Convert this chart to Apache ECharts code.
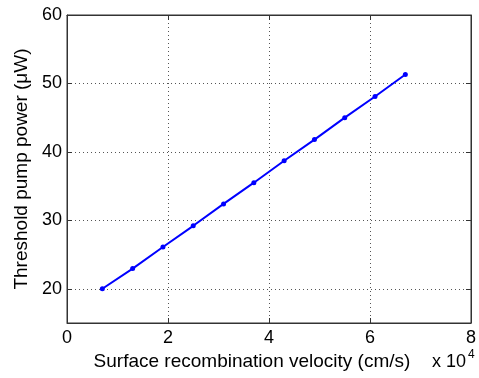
<!DOCTYPE html>
<html><head><meta charset="utf-8">
<script src="https://cdn.jsdelivr.net/npm/echarts@6/dist/echarts.min.js"></script>
<style>html,body{margin:0;padding:0;background:#fff}#c{width:479px;height:378px}</style>
</head><body><div id="c"></div>
<script>
const velocity = [0.7, 1.3, 1.9, 2.5, 3.1, 3.7, 4.3, 4.9, 5.5, 6.1, 6.7];
const power = [20.0, 22.95, 26.1, 29.2, 32.4, 35.5, 38.7, 41.8, 45.0, 48.1, 51.3];
const xTitle = 'Surface recombination velocity (cm/s)';
const yTitle = 'Threshold pump power (\u03bcW)';
const xScaleText = 'x 10';
const xScaleExp = '4';

const chart = echarts.init(document.getElementById('c'));
const font = 'Liberation Sans, Arial, sans-serif';
const axisLine = {show: true, onZero: false, lineStyle: {color: '#333', width: 1}};
const axisTick = {show: true, inside: true, length: 5, lineStyle: {color: '#333'}};
const splitLine = {show: true, lineStyle: {color: '#555', type: [1, 3], width: 1}};
const labelStyle = {color: '#000', fontSize: 18, fontFamily: font};
const yFmt = v => (v % 10 === 0 ? String(v) : '');
chart.setOption({
  animation: false,
  grid: {left: 67, right: 4, top: 15, bottom: 55, show: true, borderColor: '#333', borderWidth: 1},
  xAxis: [{
    type: 'value', min: 0, max: 8, interval: 2, position: 'bottom',
    axisLine, axisTick, splitLine,
    name: xTitle, nameLocation: 'middle', nameGap: 29,
    nameTextStyle: {color: '#000', fontSize: 19, fontFamily: font, padding: [0, 34, 0, 0]},
    axisLabel: Object.assign({}, labelStyle, {margin: 6})
  }, {
    type: 'value', min: 0, max: 8, interval: 2, position: 'top',
    axisLine, axisTick, splitLine: {show: false}, axisLabel: {show: false}
  }],
  yAxis: [{
    type: 'value', min: 15, max: 60, splitNumber: 5, position: 'left',
    axisLine, axisTick, splitLine,
    name: yTitle, nameLocation: 'middle', nameGap: 36,
    nameTextStyle: {color: '#000', fontSize: 19, fontFamily: font},
    axisLabel: Object.assign({}, labelStyle, {margin: 5, formatter: yFmt})
  }, {
    type: 'value', min: 15, max: 60, splitNumber: 5, position: 'right',
    axisLine, axisTick, splitLine: {show: false}, axisLabel: {show: false}
  }],
  graphic: [{
    type: 'text', x: 432, y: 353,
    style: {text: xScaleText, fontSize: 18, fontFamily: font, fill: '#000', verticalAlign: 'top'}
  }, {
    type: 'text', x: 468, y: 349,
    style: {text: xScaleExp, fontSize: 12, fontFamily: font, fill: '#000', verticalAlign: 'top'}
  }],
  series: [{
    type: 'line',
    data: velocity.map((v, i) => [v, power[i]]),
    symbol: 'circle', symbolSize: 5,
    lineStyle: {color: '#0000ff', width: 2},
    itemStyle: {color: '#0000ff'}
  }]
});
</script></body></html>
